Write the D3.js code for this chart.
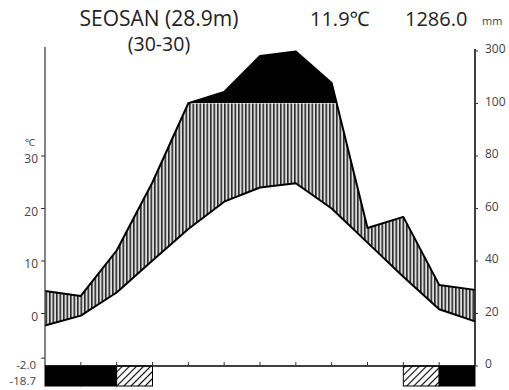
<!DOCTYPE html>
<html>
<head>
<meta charset="utf-8">
<script src="https://cdn.jsdelivr.net/npm/d3@7"></script>
<style>
  body { margin: 0; background: #fff; }
  text { font-family: "Open Sans", "Noto Sans", sans-serif; }
</style>
</head>
<body>
<svg width="509" height="390"></svg>
<script>
// station info
const station = "SEOSAN (28.9m)";
const period = "(30-30)";
const meanTemp = "11.9℃";
const totalPrecip = "1286.0";

// monthly points (last point closes the year back at January)
const months = ["1", "2", "3", "4", "5", "6", "7", "8", "9", "10", "11", "12", "1"];
const temps = [-2.3, -0.4, 4.0, 10.1, 16.1, 21.3, 24.0, 24.8, 20.0, 13.5, 7.0, 0.8, -1.5];
const precip = [28.6, 26.7, 44, 70, 101, 144, 281, 298, 178, 52.6, 56.8, 30.9, 29];

// frost bars: 2 = sure frost, 1 = probable frost, 0 = none
const frost = [2, 2, 1, 0, 0, 0, 0, 0, 0, 0, 1, 2];
const minMean = "-2.0";
const absMin = "-18.7";

const tempTicks = [0, 10, 20, 30];
const precipTicks = [0, 20, 40, 60, 80, 100, 300];

const svg = d3.select("svg");
const left = 45, right = 475, base = 366;

const x = d3.scaleLinear().domain([0, 12]).range([left, right]);
const yT = d3.scaleLinear().domain([-10, 40]).range([base, 103.5]);
// above 100 mm the scale is compressed 1:10
const yP = d3.scaleLinear().domain([0, 100, 300]).range([base, 103.5, 51]);

const defs = svg.append("defs");
// vertical stripes for humid period
const vs = defs.append("pattern").attr("id", "vstripe")
    .attr("patternUnits", "userSpaceOnUse")
    .attr("width", 3.5).attr("height", 10);
vs.append("rect").attr("width", 3.5).attr("height", 10).attr("fill", "#dcdcdc");
vs.append("line").attr("x1", 0.8).attr("x2", 0.8).attr("y1", 0).attr("y2", 10)
    .attr("stroke", "#2a2a2a").attr("stroke-width", 1.6);
// diagonal hatch for probable frost
const dh = defs.append("pattern").attr("id", "diag")
    .attr("patternUnits", "userSpaceOnUse")
    .attr("width", 5).attr("height", 5)
    .attr("patternTransform", "rotate(45)");
dh.append("rect").attr("width", 5).attr("height", 5).attr("fill", "#fff");
dh.append("line").attr("x1", 0).attr("x2", 0).attr("y1", 0).attr("y2", 5)
    .attr("stroke", "#000").attr("stroke-width", 2.2);

defs.append("clipPath").attr("id", "below100")
    .append("rect").attr("x", 0).attr("y", yP(100)).attr("width", 509).attr("height", 400);
defs.append("clipPath").attr("id", "above100")
    .append("rect").attr("x", 0).attr("y", 0).attr("width", 509).attr("height", yP(100) - 0.5);

const idx = d3.range(months.length);

// humid area (between temperature and precipitation), capped at 100 mm
svg.append("path")
    .datum(idx)
    .attr("clip-path", "url(#below100)")
    .attr("fill", "url(#vstripe)")
    .attr("d", d3.area().x(i => x(i)).y0(i => yT(temps[i])).y1(i => yP(precip[i])));

// very wet part above 100 mm in black
svg.append("path")
    .datum(idx)
    .attr("clip-path", "url(#above100)")
    .attr("fill", "#000")
    .attr("d", d3.area().x(i => x(i)).y0(yP(100) + 1).y1(i => yP(precip[i])));

// outlines
svg.append("path").datum(idx)
    .attr("fill", "none").attr("stroke", "#000").attr("stroke-width", 2)
    .attr("stroke-linejoin", "round")
    .attr("d", d3.line().x(i => x(i)).y(i => yP(precip[i])));
svg.append("path").datum(idx)
    .attr("fill", "none").attr("stroke", "#000").attr("stroke-width", 2)
    .attr("stroke-linejoin", "round")
    .attr("d", d3.line().x(i => x(i)).y(i => yT(temps[i])));

// frost bars
svg.append("g").selectAll("rect")
    .data(frost.map((f, i) => ({ f, i })).filter(d => d.f > 0))
    .join("rect")
    .attr("x", d => x(d.i))
    .attr("y", base)
    .attr("width", x(1) - x(0))
    .attr("height", 20)
    .attr("fill", d => d.f === 2 ? "#000" : "url(#diag)")
    .attr("stroke", "#000").attr("stroke-width", 1);

// axes
const axisColor = "#333";
svg.append("line").attr("x1", left).attr("x2", left).attr("y1", 47).attr("y2", base)
    .attr("stroke", axisColor).attr("stroke-width", 1.2);
svg.append("line").attr("x1", right).attr("x2", right).attr("y1", yP(300) - 2).attr("y2", base)
    .attr("stroke", "#000").attr("stroke-width", 1.5);
svg.append("line").attr("x1", left).attr("x2", right).attr("y1", base).attr("y2", base)
    .attr("stroke", "#000").attr("stroke-width", 1.5);

// month ticks on baseline
svg.append("g").selectAll("line")
    .data(d3.range(1, 12))
    .join("line")
    .attr("x1", d => x(d)).attr("x2", d => x(d))
    .attr("y1", base).attr("y2", base - 4)
    .attr("stroke", axisColor);

// left temperature axis
const lt = svg.append("g");
lt.selectAll("line")
    .data(tempTicks.concat([-8.5]))
    .join("line")
    .attr("x1", left - 4).attr("x2", left)
    .attr("y1", d => yT(d)).attr("y2", d => yT(d))
    .attr("stroke", axisColor);
lt.selectAll("text")
    .data(tempTicks)
    .join("text")
    .attr("x", 38).attr("y", d => yT(d) + 4)
    .attr("text-anchor", "end").attr("dominant-baseline", "middle")
    .attr("font-size", 12).attr("fill", "#444")
    .text(d => d);
svg.append("text").attr("x", 30).attr("y", 146)
    .attr("text-anchor", "middle").attr("font-size", 10).attr("fill", "#444")
    .text("℃");
svg.append("text").attr("x", 36).attr("y", 366)
    .attr("text-anchor", "end").attr("dominant-baseline", "middle")
    .attr("font-size", 11.5).attr("fill", "#444").text(minMean);
svg.append("text").attr("x", 36).attr("y", 382)
    .attr("text-anchor", "end").attr("dominant-baseline", "middle")
    .attr("font-size", 11.5).attr("fill", "#444").text(absMin);

// right precipitation axis
const rt = svg.append("g");
rt.selectAll("line")
    .data(precipTicks)
    .join("line")
    .attr("x1", right).attr("x2", right + 3)
    .attr("y1", d => yP(d)).attr("y2", d => yP(d))
    .attr("stroke", axisColor);
rt.selectAll("text")
    .data(precipTicks)
    .join("text")
    .attr("x", 485).attr("y", d => yP(d) - 1)
    .attr("dominant-baseline", "middle")
    .attr("font-size", 12).attr("fill", "#444")
    .text(d => d);

// header
svg.append("text").attr("x", 159).attr("y", 26)
    .attr("text-anchor", "middle").attr("font-size", 21).attr("fill", "#222")
    .text(station);
svg.append("text").attr("x", 159).attr("y", 51)
    .attr("text-anchor", "middle").attr("font-size", 19.5).attr("fill", "#222")
    .text(period);
svg.append("text").attr("x", 310).attr("y", 26)
    .attr("font-size", 20).attr("fill", "#222")
    .text(meanTemp);
svg.append("text").attr("x", 405).attr("y", 26)
    .attr("font-size", 20).attr("fill", "#222")
    .text(totalPrecip);
svg.append("text").attr("x", 482).attr("y", 25)
    .attr("font-size", 11).attr("fill", "#444")
    .text("mm");
</script>
</body>
</html>
